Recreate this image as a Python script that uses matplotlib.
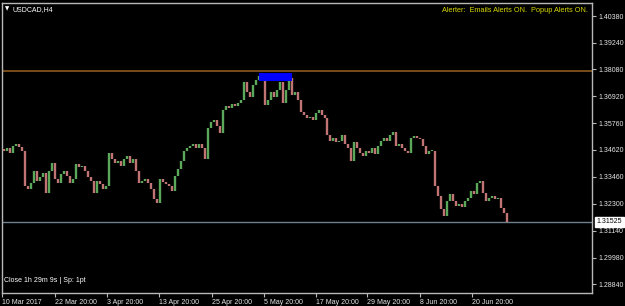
import matplotlib
matplotlib.use('Agg')
import matplotlib.pyplot as plt

# --- data (USDCAD, H4) ---
closes = [1.3459, 1.3468, 1.3450, 1.3480, 1.3489, 1.3476, 1.3459, 1.3308, 1.3295, 1.3321,
          1.3373, 1.3329, 1.3347, 1.3364, 1.3278, 1.3373, 1.3407, 1.3338, 1.3321, 1.3360,
          1.3373, 1.3351, 1.3321, 1.3338, 1.3403, 1.3390, 1.3394, 1.3373, 1.3347, 1.3329,
          1.3278, 1.3329, 1.3316, 1.3295, 1.3308, 1.3450, 1.3424, 1.3407, 1.3415, 1.3394,
          1.3424, 1.3437, 1.3407, 1.3424, 1.3373, 1.3321, 1.3329, 1.3338, 1.3321, 1.3295,
          1.3252, 1.3234, 1.3338, 1.3325, 1.3316, 1.3308, 1.3286, 1.3351, 1.3381, 1.3415,
          1.3459, 1.3472, 1.3480, 1.3489, 1.3472, 1.3489, 1.3468, 1.3424, 1.3558, 1.3580,
          1.3589, 1.3563, 1.3533, 1.3632, 1.3649, 1.3641, 1.3658, 1.3649, 1.3662, 1.3675,
          1.3753, 1.3710, 1.3688, 1.3740, 1.3762, 1.3779, 1.3783, 1.3653, 1.3675, 1.3710,
          1.3688, 1.3718, 1.3753, 1.3662, 1.3718, 1.3770, 1.3697, 1.3710, 1.3675, 1.3623,
          1.3610, 1.3597, 1.3602, 1.3589, 1.3619, 1.3632, 1.3610, 1.3597, 1.3524, 1.3502,
          1.3511, 1.3494, 1.3502, 1.3524, 1.3489, 1.3468, 1.3415, 1.3494, 1.3468, 1.3450,
          1.3437, 1.3459, 1.3450, 1.3468, 1.3446, 1.3480, 1.3502, 1.3511, 1.3502, 1.3524,
          1.3537, 1.3480, 1.3489, 1.3468, 1.3459, 1.3450, 1.3511, 1.3520, 1.3515, 1.3507,
          1.3480, 1.3446, 1.3459, 1.3459, 1.3308, 1.3265, 1.3208, 1.3178, 1.3243, 1.3273,
          1.3243, 1.3221, 1.3230, 1.3217, 1.3243, 1.3256, 1.3286, 1.3273, 1.3321, 1.3329,
          1.3278, 1.3243, 1.3256, 1.3265, 1.3252, 1.3256, 1.3212, 1.3191, 1.31525]
first_open = 1.3465

price_ticks = [1.40380, 1.39240, 1.38080, 1.36920, 1.35760, 1.34620,
               1.33460, 1.32300, 1.31140, 1.29980, 1.28840]
date_labels = ["10 Mar 2017", "22 Mar 20:00", "3 Apr 20:00", "13 Apr 20:00", "25 Apr 20:00",
               "5 May 20:00", "17 May 20:00", "29 May 20:00", "8 Jun 20:00", "20 Jun 20:00"]
date_bars = [-0.7, 17, 34.3, 51.7, 69.3, 86.7, 104, 121.3, 139, 156.3]

alert_level = 1.3800
current_price = 1.31525
zone_bars = (85, 96.3)
zone_prices = (1.3757, 1.3792)

symbol_title = "USDCAD,H4"
alert_text = "Alerter:  Emails Alerts ON.  Popup Alerts ON."
status_text = "Close 1h 29m 9s | Sp: 1pt"

# --- figure ---
W, H = 625, 306
fig = plt.figure(figsize=(W / 100, H / 100), dpi=100, facecolor='black')
ax = fig.add_axes([2 / W, (H - 293) / H, (592 - 2) / W, (293 - 3) / H])
ax.set_facecolor('black')

FONT = ['Liberation Sans', 'DejaVu Sans']
bull = '#5ba85b'
bear = '#c07474'

opens = [first_open] + closes[:-1]
xs = list(range(len(closes)))
lo = [min(o, c) for o, c in zip(opens, closes)]
hi = [max(o, c) + 0.00012 * (o == c) for o, c in zip(opens, closes)]
cols = [bull if c >= o else bear for o, c in zip(opens, closes)]
ax.vlines(xs, lo, hi, colors=cols, linewidth=1.7, zorder=3)

ax.axhline(alert_level, color='#8c5a1e', linewidth=1.2, zorder=2)
ax.axhline(current_price, color='#6f7f8c', linewidth=1.0, zorder=2)
ax.fill_between(zone_bars, zone_prices[0], zone_prices[1], color='#0000ff', zorder=4, linewidth=0)

ax.set_xlim(-0.33, 196.33)
ax.set_ylim(1.28457, 1.40941)

for s in ax.spines.values():
    s.set_color('#b8b8b8')
    s.set_linewidth(1.0)

ax.yaxis.tick_right()
ax.set_yticks(price_ticks)
ax.set_yticklabels([f"{p:.5f}" for p in price_ticks])
ax.set_xticks(date_bars)
ax.set_xticklabels(date_labels, ha='left')
ax.tick_params(axis='both', colors='#b8b8b8', length=3, width=0.8, direction='out',
               labelsize=5.0, labelcolor='#e6e6e6', pad=1.5)
ax.tick_params(axis='x', pad=1.0)
for lab in ax.get_xticklabels() + ax.get_yticklabels():
    lab.set_family(FONT)

# current price label box
ax.annotate(f"{current_price:.5f}", xy=(1.0, current_price), xycoords=('axes fraction', 'data'),
            xytext=(3.5, 0), textcoords='offset points', va='center', ha='left',
            fontsize=5.0, family=FONT, color='black',
            bbox=dict(boxstyle='square,pad=0.2', fc='white', ec='white'), zorder=10,
            annotation_clip=False)

ax.text(0.005, 0.988, "\u25bc", transform=ax.transAxes, fontsize=4.0, color='white',
        va='top', ha='left', family=['DejaVu Sans'])
ax.text(0.017, 0.99, symbol_title, transform=ax.transAxes, fontsize=5.0, color='white',
        va='top', ha='left', family=FONT)
ax.text(0.993, 0.985, alert_text, transform=ax.transAxes, fontsize=5.3, color='#d8d800',
        va='top', ha='right', family=FONT)
ax.text(0.004, 0.03, status_text, transform=ax.transAxes, fontsize=5.0, color='white',
        va='bottom', ha='left', family=FONT)

fig.savefig('out.png', dpi=100, facecolor='black')
